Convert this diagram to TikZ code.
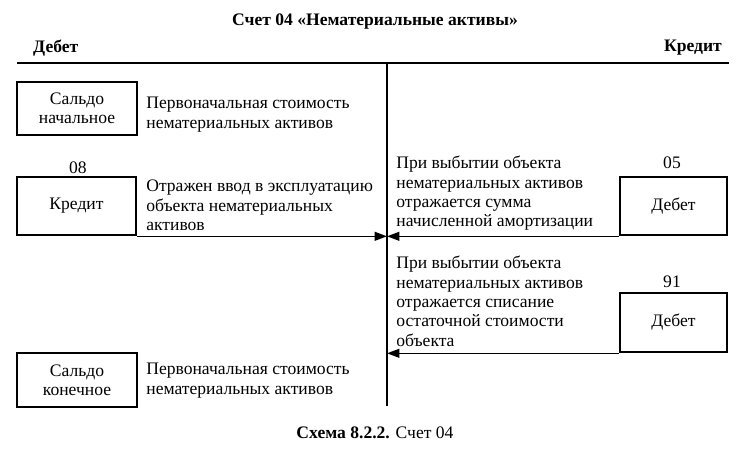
\documentclass[tikz,border=0pt]{standalone}
\usepackage{fontspec}
\setmainfont{Liberation Serif}
\usetikzlibrary{arrows.meta}

\begin{document}
\begin{tikzpicture}[x=0.02cm, y=-0.02cm,
    every node/.style={font=\fontsize{10}{11}\selectfont},
    box/.style={draw, line width=1.5pt, align=center, inner sep=0pt},
    note/.style={anchor=north west, align=left, inner sep=0pt},
    arr/.style={-{Triangle[length=7pt, width=5pt]}, line width=0.9pt}]
    \useasboundingbox (0, 0) rectangle (752, 466);

    \node[font=\fontsize{10}{11}\selectfont\bfseries] (title) at (375, 22) {Счет 04 «Нематериальные активы»};
    \node[font=\fontsize{10}{11}\selectfont\bfseries, anchor=west] (debet) at (27, 48) {Дебет};
    \node[font=\fontsize{10}{11}\selectfont\bfseries, anchor=east] (kredit) at (728, 48) {Кредит};

    \coordinate (left) at (17, 63);
    \coordinate (right) at (729, 63);
    \coordinate (top) at (387, 63);
    \coordinate (bottom) at (387, 406);
    \draw[line width=1.7pt] (left) -- (right);
    \draw[line width=1.2pt] (top) -- (bottom);

    % debit side
    \node[box, minimum width=2.4cm, minimum height=1.06cm] (sn) at (77, 108.5) {Сальдо\\начальное};
    \node[note] (snt) at (146, 97) {Первоначальная стоимость\\нематериальных активов};

    \node (n08) at (78, 168) {08};
    \node[box, minimum width=2.38cm, minimum height=1.16cm] (kr08) at (76.5, 206) {Кредит};
    \node[note] (krt) at (146, 180) {Отражен ввод в эксплуатацию\\объекта нематериальных\\активов};
    \draw[arr] (kr08.south east) -- (kr08.south east -| top);

    \node[box, minimum width=2.4cm, minimum height=1.08cm] (sk) at (77, 380) {Сальдо\\конечное};
    \node[note] (skt) at (146, 363) {Первоначальная стоимость\\нематериальных активов};

    % credit side
    \node (n05) at (672, 163) {05};
    \node[box, minimum width=2.14cm, minimum height=1.16cm] (db05) at (673.5, 206) {Дебет};
    \node[note] (db05t) at (396, 156) {При выбытии объекта\\нематериальных активов\\отражается сумма\\начисленной амортизации};
    \draw[arr] (db05.south west) -- (db05.south west -| top);

    \node (n91) at (672, 282) {91};
    \node[box, minimum width=2.14cm, minimum height=1.18cm] (db91) at (673.5, 322.5) {Дебет};
    \node[note] (db91t) at (396, 256) {При выбытии объекта\\нематериальных активов\\отражается списание\\остаточной стоимости\\объекта};
    \draw[arr] (db91.south west) -- (db91.south west -| top);

    \node (caption) at (375, 433) {\textbf{Схема 8.2.2.} Счет 04};
\end{tikzpicture}
\end{document}
